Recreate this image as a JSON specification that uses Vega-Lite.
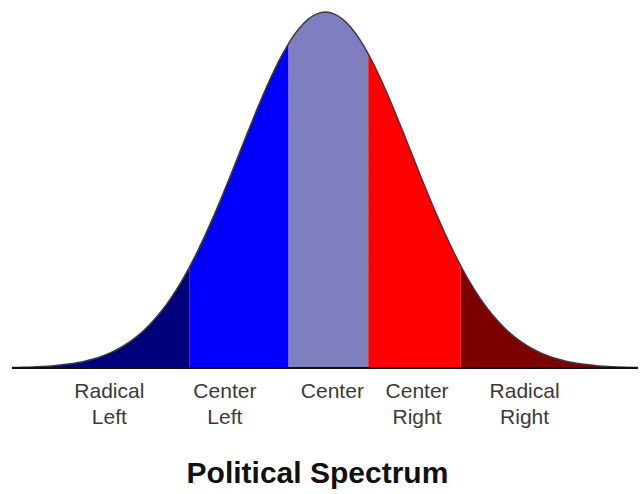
{
  "$schema": "https://vega.github.io/schema/vega-lite/v6.json",
  "width": 641,
  "height": 494,
  "autosize": {"type": "fit", "contains": "padding"},
  "padding": 0,
  "background": "white",
  "config": {"view": {"stroke": null}},
  "datasets": {
    "curve": [
      {"x": -3.66, "d": 0.00123, "seg": "Radical Left"},
      {"x": -3.6, "d": 0.00153, "seg": "Radical Left"},
      {"x": -3.5, "d": 0.00219, "seg": "Radical Left"},
      {"x": -3.4, "d": 0.00309, "seg": "Radical Left"},
      {"x": -3.3, "d": 0.00432, "seg": "Radical Left"},
      {"x": -3.2, "d": 0.00598, "seg": "Radical Left"},
      {"x": -3.1, "d": 0.00819, "seg": "Radical Left"},
      {"x": -3.0, "d": 0.01111, "seg": "Radical Left"},
      {"x": -2.9, "d": 0.01492, "seg": "Radical Left"},
      {"x": -2.8, "d": 0.01984, "seg": "Radical Left"},
      {"x": -2.7, "d": 0.02612, "seg": "Radical Left"},
      {"x": -2.6, "d": 0.03405, "seg": "Radical Left"},
      {"x": -2.5, "d": 0.04394, "seg": "Radical Left"},
      {"x": -2.4, "d": 0.05614, "seg": "Radical Left"},
      {"x": -2.3, "d": 0.071, "seg": "Radical Left"},
      {"x": -2.2, "d": 0.08892, "seg": "Radical Left"},
      {"x": -2.1, "d": 0.11025, "seg": "Radical Left"},
      {"x": -2.0, "d": 0.13534, "seg": "Radical Left"},
      {"x": -1.9, "d": 0.16447, "seg": "Radical Left"},
      {"x": -1.8, "d": 0.1979, "seg": "Radical Left"},
      {"x": -1.7, "d": 0.23575, "seg": "Radical Left"},
      {"x": -1.6, "d": 0.27804, "seg": "Radical Left"},
      {"x": -1.59, "d": 0.2825, "seg": "Radical Left"},
      {"x": -1.59, "d": 0.2825, "seg": "Center Left"},
      {"x": -1.5, "d": 0.32465, "seg": "Center Left"},
      {"x": -1.4, "d": 0.37531, "seg": "Center Left"},
      {"x": -1.3, "d": 0.42956, "seg": "Center Left"},
      {"x": -1.2, "d": 0.48675, "seg": "Center Left"},
      {"x": -1.1, "d": 0.54607, "seg": "Center Left"},
      {"x": -1.0, "d": 0.60653, "seg": "Center Left"},
      {"x": -0.9, "d": 0.66698, "seg": "Center Left"},
      {"x": -0.8, "d": 0.72615, "seg": "Center Left"},
      {"x": -0.7, "d": 0.7827, "seg": "Center Left"},
      {"x": -0.6, "d": 0.83527, "seg": "Center Left"},
      {"x": -0.5, "d": 0.8825, "seg": "Center Left"},
      {"x": -0.43, "d": 0.9117, "seg": "Center Left"},
      {"x": -0.43, "d": 0.9117, "seg": "Center"},
      {"x": -0.4, "d": 0.92312, "seg": "Center"},
      {"x": -0.3, "d": 0.956, "seg": "Center"},
      {"x": -0.2, "d": 0.9802, "seg": "Center"},
      {"x": -0.1, "d": 0.99501, "seg": "Center"},
      {"x": 0.0, "d": 1.0, "seg": "Center"},
      {"x": 0.1, "d": 0.99501, "seg": "Center"},
      {"x": 0.2, "d": 0.9802, "seg": "Center"},
      {"x": 0.3, "d": 0.956, "seg": "Center"},
      {"x": 0.4, "d": 0.92312, "seg": "Center"},
      {"x": 0.5, "d": 0.8825, "seg": "Center"},
      {"x": 0.5, "d": 0.8825, "seg": "Center Right"},
      {"x": 0.6, "d": 0.83527, "seg": "Center Right"},
      {"x": 0.7, "d": 0.7827, "seg": "Center Right"},
      {"x": 0.8, "d": 0.72615, "seg": "Center Right"},
      {"x": 0.9, "d": 0.66698, "seg": "Center Right"},
      {"x": 1.0, "d": 0.60653, "seg": "Center Right"},
      {"x": 1.1, "d": 0.54607, "seg": "Center Right"},
      {"x": 1.2, "d": 0.48675, "seg": "Center Right"},
      {"x": 1.3, "d": 0.42956, "seg": "Center Right"},
      {"x": 1.4, "d": 0.37531, "seg": "Center Right"},
      {"x": 1.5, "d": 0.32465, "seg": "Center Right"},
      {"x": 1.58, "d": 0.287, "seg": "Center Right"},
      {"x": 1.58, "d": 0.287, "seg": "Radical Right"},
      {"x": 1.6, "d": 0.27804, "seg": "Radical Right"},
      {"x": 1.7, "d": 0.23575, "seg": "Radical Right"},
      {"x": 1.8, "d": 0.1979, "seg": "Radical Right"},
      {"x": 1.9, "d": 0.16447, "seg": "Radical Right"},
      {"x": 2.0, "d": 0.13534, "seg": "Radical Right"},
      {"x": 2.1, "d": 0.11025, "seg": "Radical Right"},
      {"x": 2.2, "d": 0.08892, "seg": "Radical Right"},
      {"x": 2.3, "d": 0.071, "seg": "Radical Right"},
      {"x": 2.4, "d": 0.05614, "seg": "Radical Right"},
      {"x": 2.5, "d": 0.04394, "seg": "Radical Right"},
      {"x": 2.6, "d": 0.03405, "seg": "Radical Right"},
      {"x": 2.7, "d": 0.02612, "seg": "Radical Right"},
      {"x": 2.8, "d": 0.01984, "seg": "Radical Right"},
      {"x": 2.9, "d": 0.01492, "seg": "Radical Right"},
      {"x": 3.0, "d": 0.01111, "seg": "Radical Right"},
      {"x": 3.1, "d": 0.00819, "seg": "Radical Right"},
      {"x": 3.2, "d": 0.00598, "seg": "Radical Right"},
      {"x": 3.3, "d": 0.00432, "seg": "Radical Right"},
      {"x": 3.4, "d": 0.00309, "seg": "Radical Right"},
      {"x": 3.5, "d": 0.00219, "seg": "Radical Right"},
      {"x": 3.6, "d": 0.00153, "seg": "Radical Right"},
      {"x": 3.65, "d": 0.00128, "seg": "Radical Right"}
    ],
    "labels": [
      {"x": -2.523, "label": ["Radical", "Left"]},
      {"x": -1.174, "label": ["Center", "Left"]},
      {"x": 0.081, "label": ["Center"]},
      {"x": 1.07, "label": ["Center", "Right"]},
      {"x": 2.326, "label": ["Radical", "Right"]}
    ],
    "title": [{"t": "Political Spectrum"}]
  },
  "layer": [
    {
      "data": {"name": "curve"},
      "mark": {"type": "area", "interpolate": "monotone", "opacity": 1},
      "encoding": {
        "x": {"field": "x", "type": "quantitative", "scale": {"domain": [-3.8, 3.65], "nice": false, "zero": false}, "axis": null},
        "y": {"field": "d", "type": "quantitative", "stack": null, "scale": {"domain": [-0.354, 1.034], "nice": false, "zero": false}, "axis": null},
        "y2": {"datum": 0},
        "fill": {"field": "seg", "type": "nominal", "legend": null,
          "scale": {"domain": ["Radical Left", "Center Left", "Center", "Center Right", "Radical Right"],
                    "range": ["#00007c", "#0000fc", "#7f7fbf", "#fe0000", "#7d0000"]}}
      }
    },
    {
      "data": {"name": "curve"},
      "mark": {"type": "line", "interpolate": "monotone", "stroke": "#3a3a4a", "strokeWidth": 1.5},
      "encoding": {
        "x": {"field": "x", "type": "quantitative"},
        "y": {"field": "d", "type": "quantitative"}
      }
    },
    {
      "data": {"name": "title"},
      "mark": {"type": "rule", "stroke": "#111111", "strokeWidth": 2},
      "encoding": {
        "x": {"datum": -3.66},
        "x2": {"datum": 3.65},
        "y": {"datum": 0}
      }
    },
    {
      "data": {"name": "labels"},
      "mark": {"type": "text", "font": "Liberation Sans", "fontSize": 21, "fill": "#3a3a3a", "align": "center", "baseline": "alphabetic", "lineHeight": 26},
      "encoding": {
        "x": {"field": "x", "type": "quantitative"},
        "y": {"datum": -0.0843},
        "text": {"field": "label"}
      }
    },
    {
      "data": {"name": "title"},
      "mark": {"type": "text", "font": "Liberation Sans", "fontSize": 30, "fontWeight": "bold", "fill": "#111111", "align": "center", "baseline": "alphabetic"},
      "encoding": {
        "x": {"datum": -0.093},
        "y": {"datum": -0.323},
        "text": {"field": "t"}
      }
    }
  ]
}
